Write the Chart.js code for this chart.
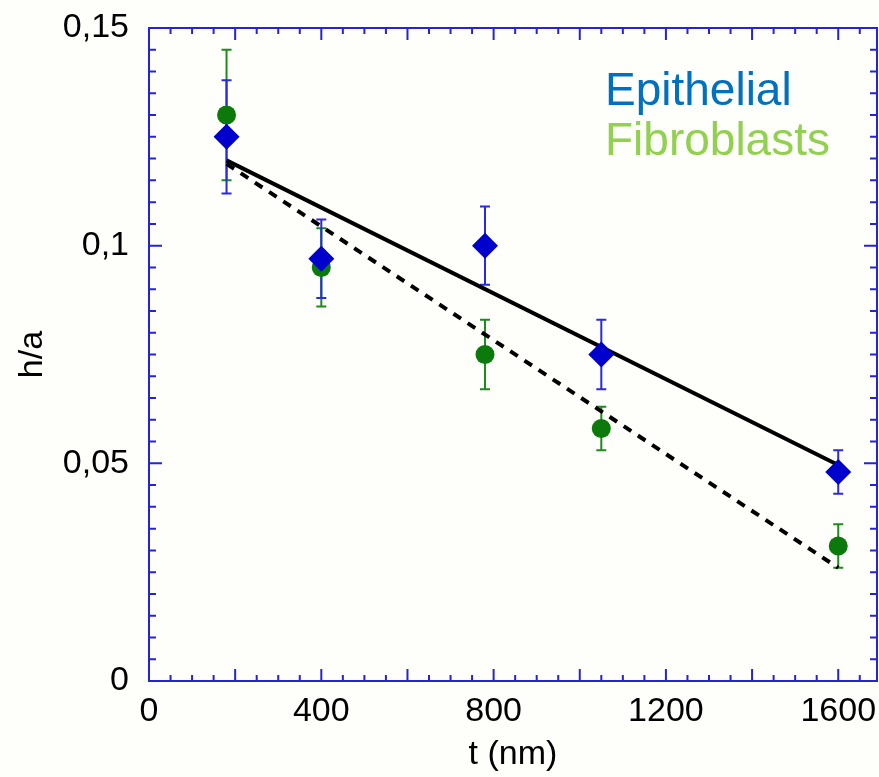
<!DOCTYPE html>
<html>
<head>
<meta charset="utf-8">
<script src="https://cdn.jsdelivr.net/npm/chart.js@4.4.0/dist/chart.umd.min.js"></script>
<style>
  html, body { margin: 0; padding: 0; background: #fefefa; }
  #wrap { width: 879px; height: 777px; }
</style>
</head>
<body>
<div id="wrap"><canvas id="haChart" width="879" height="777"></canvas></div>
<script>
var thickness = [180, 400, 780, 1050, 1600];
var epithelial = [0.125, 0.097, 0.100, 0.075, 0.048];
var epithelialErr = [0.013, 0.009, 0.009, 0.008, 0.005];
var fibroblasts = [0.130, 0.095, 0.075, 0.058, 0.031];
var fibroblastsErr = [0.015, 0.009, 0.008, 0.005, 0.005];
var epithelialFitX = [180, 1600];
var epithelialFitY = [0.1196, 0.0496];
var fibroblastsFitX = [180, 1600];
var fibroblastsFitY = [0.1188, 0.026];
var xTicks = [0, 400, 800, 1200, 1600];
var yTicks = [0, 0.05, 0.1, 0.15];
var yTickLabels = ['0', '0,05', '0,1', '0,15'];
var seriesNames = ['Epithelial', 'Fibroblasts'];

var fontFamily = '"Liberation Sans", Arial, sans-serif';
var axisBlue = '#2424d6';

function toPoints(xs, ys) {
    return xs.map(function (x, i) { return { x: x, y: ys[i] }; });
}

// paper colour behind everything
var background = {
    id: 'background',
    beforeDraw: function (chart) {
        var ctx = chart.ctx;
        ctx.save();
        ctx.fillStyle = '#fefefa';
        ctx.fillRect(0, 0, chart.width, chart.height);
        ctx.restore();
    }
};

// vertical error bars with small caps
var errorBars = {
    id: 'errorBars',
    beforeDatasetsDraw: function (chart) {
        var ctx = chart.ctx;
        var xs = chart.scales.x, ys = chart.scales.y;
        chart.data.datasets.forEach(function (ds) {
            if (!ds.errors) return;
            ctx.save();
            ctx.strokeStyle = ds.errorColor;
            ctx.lineWidth = 2;
            ctx.beginPath();
            ds.data.forEach(function (p, i) {
                var px = xs.getPixelForValue(p.x);
                var top = ys.getPixelForValue(p.y + ds.errors[i]);
                var bot = ys.getPixelForValue(p.y - ds.errors[i]);
                ctx.moveTo(px, top); ctx.lineTo(px, bot);
                ctx.moveTo(px - 5, top); ctx.lineTo(px + 5, top);
                ctx.moveTo(px - 5, bot); ctx.lineTo(px + 5, bot);
            });
            ctx.stroke();
            ctx.restore();
        });
    }
};

// blue box with inward ticks on all four sides, plus the coloured legend words
var frameTicks = {
    id: 'frameTicks',
    afterDatasetsDraw: function (chart) {
        var ctx = chart.ctx, a = chart.chartArea;
        var xs = chart.scales.x, ys = chart.scales.y;
        ctx.save();
        ctx.strokeStyle = axisBlue;
        ctx.lineWidth = 2;
        ctx.strokeRect(a.left, a.top, a.right - a.left, a.bottom - a.top);
        ctx.beginPath();
        for (var v = 50; v < xs.max; v += 50) {
            var px = xs.getPixelForValue(v);
            var len = v % 200 === 0 ? 12 : 6;
            ctx.moveTo(px, a.bottom); ctx.lineTo(px, a.bottom - len);
            ctx.moveTo(px, a.top); ctx.lineTo(px, a.top + len);
        }
        for (var k = 1; k < 30; k++) {
            var py = ys.getPixelForValue(k * 0.005);
            var len2 = k % 10 === 0 ? 13 : 7;
            ctx.moveTo(a.left, py); ctx.lineTo(a.left + len2, py);
            ctx.moveTo(a.right, py); ctx.lineTo(a.right - len2, py);
        }
        ctx.stroke();

        ctx.font = '46px ' + fontFamily;
        ctx.textAlign = 'left';
        ctx.textBaseline = 'alphabetic';
        ctx.fillStyle = '#0070c0';
        ctx.fillText(seriesNames[0], 605, 105);
        ctx.fillStyle = '#92d050';
        ctx.fillText(seriesNames[1], 605, 155);
        ctx.restore();
    }
};

var ctx = document.getElementById('haChart').getContext('2d');
var haChart = new Chart(ctx, {
    type: 'scatter',
    data: {
        datasets: [{
            label: 'Epithelial fit',
            data: toPoints(epithelialFitX, epithelialFitY),
            showLine: true,
            borderColor: '#000000',
            borderWidth: 4,
            pointRadius: 0,
            order: 3
        }, {
            label: 'Fibroblasts fit',
            data: toPoints(fibroblastsFitX, fibroblastsFitY),
            showLine: true,
            borderColor: '#000000',
            borderWidth: 4,
            borderDash: [9, 8],
            pointRadius: 0,
            order: 3
        }, {
            label: seriesNames[1],
            data: toPoints(thickness, fibroblasts),
            errors: fibroblastsErr,
            errorColor: '#1f8a1f',
            pointStyle: 'circle',
            pointRadius: 9.5,
            backgroundColor: '#0b7a0b',
            borderWidth: 0,
            order: 2
        }, {
            label: seriesNames[0],
            data: toPoints(thickness, epithelial),
            errors: epithelialErr,
            errorColor: '#2a2ae0',
            pointStyle: 'rectRot',
            pointRadius: 13,
            backgroundColor: '#0000cc',
            borderWidth: 0,
            order: 1
        }]
    },
    options: {
        responsive: false,
        animation: false,
        devicePixelRatio: 1,
        layout: {
            autoPadding: false,
            padding: { left: 0, top: 28, right: 2, bottom: 0 }
        },
        plugins: {
            legend: { display: false },
            tooltip: { enabled: false }
        },
        scales: {
            x: {
                type: 'linear',
                min: 0,
                max: 1690,
                afterBuildTicks: function (axis) {
                    axis.ticks = xTicks.map(function (v) { return { value: v }; });
                },
                afterFit: function (scale) {
                    scale.height = 96;
                    scale.paddingLeft = 0;
                    scale.paddingRight = 0;
                },
                grid: { display: false, drawTicks: false },
                border: { display: false },
                ticks: {
                    // tall line height instead of padding, so the last label does not squeeze the plot
                    padding: 0,
                    color: '#000000',
                    maxRotation: 0,
                    font: { family: fontFamily, size: 34, lineHeight: 1.79 },
                    callback: function (value) { return String(value); }
                },
                title: {
                    display: true,
                    text: 't (nm)',
                    color: '#000000',
                    font: { family: fontFamily, size: 34 },
                    padding: { top: 0, bottom: 2 }
                }
            },
            y: {
                type: 'linear',
                min: 0,
                max: 0.15,
                afterBuildTicks: function (axis) {
                    axis.ticks = yTicks.map(function (v) { return { value: v }; });
                },
                afterFit: function (scale) {
                    scale.width = 149;
                    scale.paddingTop = 0;
                    scale.paddingBottom = 0;
                },
                grid: { display: false, drawTicks: false },
                border: { display: false },
                ticks: {
                    padding: 20,
                    color: '#000000',
                    font: { family: fontFamily, size: 34 },
                    callback: function (value, index) { return yTickLabels[index]; }
                },
                title: {
                    display: true,
                    text: 'h/a',
                    color: '#000000',
                    font: { family: fontFamily, size: 34 },
                    padding: { top: 12, bottom: 0 }
                }
            }
        }
    },
    plugins: [background, errorBars, frameTicks]
});
</script>
</body>
</html>
